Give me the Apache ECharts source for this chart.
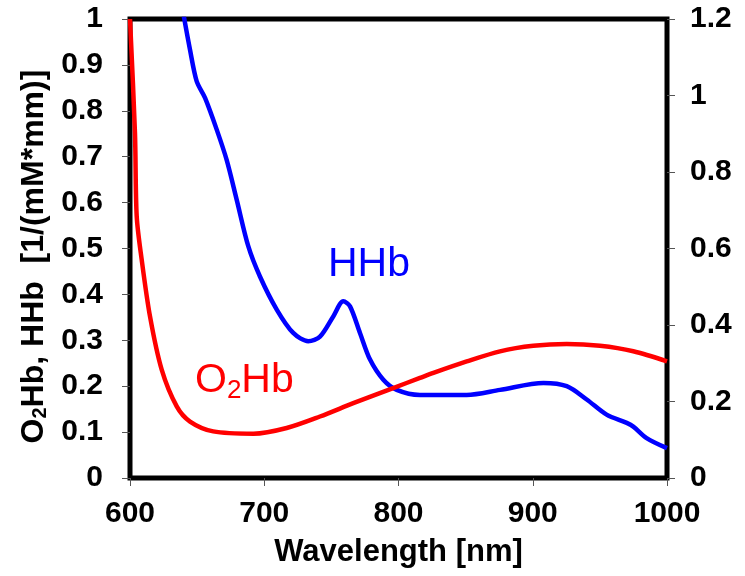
<!DOCTYPE html>
<html><head><meta charset="utf-8">
<script src="https://cdn.jsdelivr.net/npm/echarts@6/dist/echarts.min.js"></script>
<style>html,body{margin:0;padding:0;background:#fff}#c{width:745px;height:576px}</style>
</head><body><div id="c"></div>
<script>
const xTicks = [600, 700, 800, 900, 1000];
const o2hbWl = [600, 603.7, 605, 608.7, 614.9, 623.6, 634.8, 644.7, 662, 692, 716.7, 741.5, 766.3, 796, 816, 826, 850.8, 875.6, 900.4, 925.3, 950.1, 974.9, 1000];
const o2hbVal = [1.0, 0.752, 0.57, 0.476, 0.352, 0.236, 0.156, 0.123, 0.1015, 0.0965, 0.109, 0.134, 0.163, 0.196, 0.218, 0.229, 0.254, 0.276, 0.288, 0.292, 0.288, 0.276, 0.254];
const hhbWl = [638, 644.7, 649.7, 655.9, 664.6, 672, 679.5, 688.1, 696.8, 709.3, 721.6, 732.8, 741.5, 751.4, 758.9, 763.9, 771.3, 778.8, 788.7, 798.7, 816, 826, 850.8, 875.6, 908, 925.3, 940.2, 955, 970, 974.9, 984.8, 1000];
const hhbVal = [1.04, 0.933, 0.864, 0.828, 0.759, 0.693, 0.606, 0.505, 0.439, 0.367, 0.316, 0.298, 0.308, 0.352, 0.385, 0.374, 0.316, 0.258, 0.214, 0.192, 0.181, 0.181, 0.181, 0.192, 0.207, 0.2, 0.171, 0.138, 0.12, 0.112, 0.087, 0.065];

const FONT = '"Liberation Sans", Arial, sans-serif';
const chart = echarts.init(document.getElementById('c'));
const tickStyle = {show: true, inside: false, length: 8, lineStyle: {color: '#555', width: 1}};
const labelStyle = {color: '#000', fontFamily: FONT, fontWeight: 'bold', fontSize: 30};
chart.setOption({
  animation: false,
  grid: {left: 130, right: 78, top: 19, bottom: 98, show: true, borderColor: '#000', borderWidth: 5, backgroundColor: '#fff'},
  xAxis: {
    type: 'value', min: 600, max: 1000, interval: 100,
    axisLine: {show: false}, axisTick: tickStyle, splitLine: {show: false},
    axisLabel: Object.assign({margin: 21, formatter: v => String(v)}, labelStyle),
    name: 'Wavelength [nm]', nameLocation: 'middle', nameGap: 59,
    nameTextStyle: {color: '#000', fontFamily: FONT, fontWeight: 'bold', fontSize: 31}
  },
  yAxis: [{
    type: 'value', min: 0, max: 1, interval: 0.1, position: 'left',
    axisLine: {show: false}, axisTick: tickStyle, splitLine: {show: false},
    axisLabel: Object.assign({margin: 27}, labelStyle),
    name: '{b|O}{s|2}{b|Hb, HHb  [1/(mM*mm)]}{p|}', nameLocation: 'middle', nameGap: 73, nameRotate: 90,
    nameTextStyle: {rich: {
      b: {color: '#000', fontFamily: FONT, fontWeight: 'bold', fontSize: 32},
      s: {color: '#000', fontFamily: FONT, fontWeight: 'bold', fontSize: 20, verticalAlign: 'bottom', padding: [13, 0, 0, 0]},
      p: {width: 16}
    }}
  }, {
    type: 'value', min: 0, max: 1.2, interval: 0.2, position: 'right',
    axisLine: {show: false}, axisTick: tickStyle, splitLine: {show: false},
    axisLabel: Object.assign({margin: 23}, labelStyle)
  }],
  series: [{
    name: 'O2Hb', type: 'line', yAxisIndex: 0, smooth: 0.3, showSymbol: false,
    lineStyle: {color: '#ff0000', width: 4.5}, z: 3,
    data: o2hbWl.map((w, i) => [w, o2hbVal[i]])
  }, {
    name: 'HHb', type: 'line', yAxisIndex: 0, smooth: 0.3, showSymbol: false,
    lineStyle: {color: '#0000ff', width: 4.5}, z: 2,
    data: hhbWl.map((w, i) => [w, hhbVal[i]])
  }],
  graphic: [{
    type: 'text', left: 328, top: 244, z: 10,
    style: {text: 'HHb', fill: '#0000ff', font: '41px ' + FONT}
  }, {
    type: 'text', left: 195, top: 360, z: 10,
    style: {text: '{a|O}{s|2}{a|Hb}', rich: {
      a: {fill: '#ff0000', fontFamily: FONT, fontSize: 41},
      s: {fill: '#ff0000', fontFamily: FONT, fontSize: 26, padding: [20, 0, 0, 0]}
    }}
  }]
});
</script></body></html>
